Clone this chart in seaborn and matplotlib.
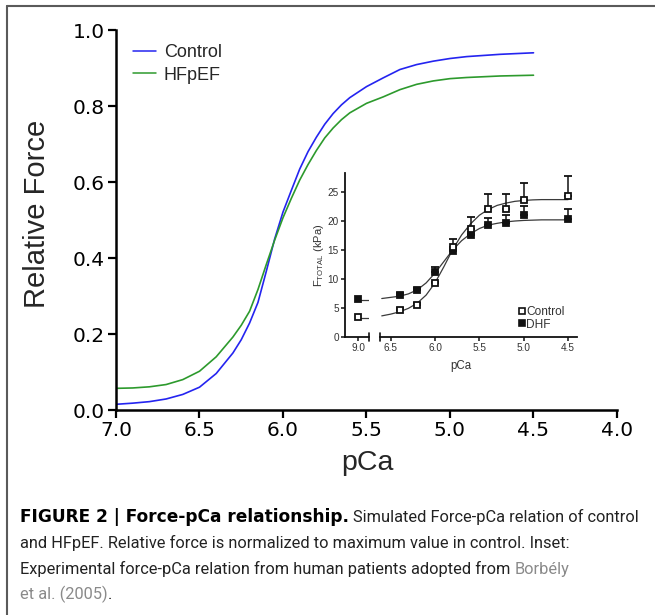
import numpy as np
import pandas as pd
import matplotlib
matplotlib.use("Agg")
import matplotlib.pyplot as plt
import seaborn as sns
from matplotlib.lines import Line2D

# ---------------- data: simulated curves (main panel) ----------------
pca_sim = [7.0, 6.9, 6.8, 6.7, 6.6, 6.5, 6.4, 6.3, 6.25, 6.2, 6.15, 6.1, 6.05, 6.0,
           5.95, 5.9, 5.85, 5.8, 5.75, 5.7, 5.65, 5.6, 5.5, 5.4, 5.3, 5.2, 5.1, 5.0,
           4.9, 4.8, 4.7, 4.6, 4.5]
force_control = [0.015, 0.018, 0.022, 0.029, 0.041, 0.060, 0.096, 0.150, 0.185, 0.229,
                 0.283, 0.365, 0.450, 0.521, 0.578, 0.634, 0.680, 0.718, 0.752, 0.780,
                 0.803, 0.822, 0.851, 0.874, 0.896, 0.909, 0.918, 0.925, 0.930, 0.933,
                 0.936, 0.938, 0.940]
force_hfpef = [0.057, 0.058, 0.061, 0.067, 0.080, 0.102, 0.140, 0.192, 0.223, 0.260,
               0.317, 0.383, 0.447, 0.506, 0.557, 0.605, 0.646, 0.683, 0.716, 0.742,
               0.764, 0.782, 0.807, 0.824, 0.843, 0.857, 0.866, 0.872, 0.875, 0.877,
               0.879, 0.880, 0.881]
series_names = ["Control", "HFpEF"]
x_ticks = [7.0, 6.5, 6.0, 5.5, 5.0, 4.5, 4.0]
y_ticks = [0.0, 0.2, 0.4, 0.6, 0.8, 1.0]

# ---------------- data: inset (experimental) ----------------
pca_relaxed = [9.0]
ftot_relaxed_control = [3.4]
ftot_relaxed_dhf = [6.6]
pca_stub = [9.0, 8.88]
stub_control = [3.3, 3.3]
stub_dhf = [6.3, 6.3]
pca_exp = [6.4, 6.2, 6.0, 5.8, 5.6, 5.4, 5.2, 5.0, 4.5]
ftot_control = [4.6, 5.5, 9.2, 15.5, 18.7, 22.1, 22.1, 23.6, 24.4]
ftot_dhf = [7.2, 8.0, 11.1, 14.8, 17.5, 19.3, 19.6, 21.0, 20.4]
err_control = [0.3, 0.3, 0.3, 1.4, 2.0, 2.6, 2.6, 3.0, 3.3]
err_dhf = [0.3, 0.5, 1.0, 0.3, 0.3, 1.3, 1.4, 1.6, 1.7]
pca_fit = [6.6, 6.5, 6.4, 6.3, 6.2, 6.1, 6.0, 5.9, 5.8, 5.7, 5.6, 5.5, 5.4, 5.3,
           5.2, 5.1, 5.0, 4.9, 4.8, 4.7, 4.6, 4.5]
fit_control = [3.6, 3.9, 4.3, 4.9, 5.8, 7.2, 9.3, 12.1, 15.1, 17.6, 19.5, 21.0, 22.0,
               22.7, 23.1, 23.4, 23.55, 23.65, 23.7, 23.7, 23.7, 23.7]
fit_dhf = [6.6, 6.8, 7.0, 7.4, 8.1, 9.3, 11.0, 13.0, 15.0, 16.6, 17.8, 18.7, 19.3,
           19.6, 19.85, 20.0, 20.1, 20.15, 20.2, 20.2, 20.2, 20.2]
inset_yticks = [0, 5, 10, 15, 20, 25]
inset_xticks_b = [6.5, 6.0, 5.5, 5.0, 4.5]
inset_series = ["Control", "DHF"]

# ---------------- figure ----------------
sns.set_style("ticks")
plt.rcParams["font.family"] = ["DejaVu Sans"]
W, H = 655, 615
fig = plt.figure(figsize=(W / 100, H / 100), dpi=100)
fig.patch.set_facecolor("white")

def fx(px):
    return px / W

def fy(py):
    return 1 - py / H

# main axes
ax = fig.add_axes([fx(116), fy(410), fx(617) - fx(116), fy(30) - fy(410)])
df = pd.DataFrame({
    "pCa": pca_sim * 2,
    "force": force_control + force_hfpef,
    "group": [series_names[0]] * len(pca_sim) + [series_names[1]] * len(pca_sim),
})
sns.lineplot(data=df, x="pCa", y="force", hue="group",
             palette={"Control": "#2424f0", "HFpEF": "#2d9a2d"},
             linewidth=1.2, ax=ax, sort=False, legend=True)
ax.set_xlim(7.0, 4.0)
ax.set_ylim(0.0, 1.0)
ax.set_xticks(x_ticks)
ax.set_xticklabels([f"{v:.1f}" for v in x_ticks])
ax.set_yticks(y_ticks)
ax.set_yticklabels([f"{v:.1f}" for v in y_ticks])
ax.tick_params(axis="both", direction="out", length=6, width=1.6, labelsize=14.5,
               pad=2, colors="black")
for s in ["top", "right"]:
    ax.spines[s].set_visible(False)
for s in ["left", "bottom"]:
    ax.spines[s].set_linewidth(1.8)
    ax.spines[s].set_color("black")
ax.set_facecolor("none")
ax.set_xlabel("")
ax.set_ylabel("")
fig.text(fx(367), fy(463), "pCa", fontsize=20.5, family=["Liberation Sans"],
         ha="center", va="center")
fig.text(fx(37), fy(214), "Relative Force", fontsize=21, family=["Liberation Sans"],
         ha="center", va="center", rotation=90)

leg = ax.get_legend()
handles = leg.legend_handles
labels = [t.get_text() for t in leg.texts]
for h in handles:
    h.set_linewidth(1.1)
ax.legend(handles, labels, loc="upper left", bbox_to_anchor=(fx(133), fy(44)),
          bbox_transform=fig.transFigure, frameon=False, borderpad=0,
          borderaxespad=0, handlelength=1.25, handletextpad=0.45, labelspacing=0.32,
          prop={"family": "Liberation Sans", "size": 13})

# ---------------- inset (broken x axis) ----------------
y_top_px, y0_px = 173, 336.7
ins_bottom = fy(y0_px)
ins_height = fy(y_top_px) - fy(y0_px)
ax_a = fig.add_axes([fx(345), ins_bottom, fx(369) - fx(345), ins_height])
ax_b = fig.add_axes([fx(380), ins_bottom, fx(577) - fx(380), ins_height])
ink = "#333333"
for a in (ax_a, ax_b):
    a.set_facecolor("none")
    a.set_ylim(0, 28.3)
    for s in ["top", "right"]:
        a.spines[s].set_visible(False)
    a.spines["bottom"].set_linewidth(1.3)
    a.spines["bottom"].set_color("#111111")
    a.tick_params(axis="both", direction="out", length=3.2, width=1.1, labelsize=7.2,
                  pad=1.3, colors=ink)
    a.tick_params(axis="both", color="#111111")

ax_a.spines["left"].set_linewidth(1.3)
ax_a.spines["left"].set_color("#111111")
ax_a.set_xlim(9.15, 8.879)
ax_b.set_xlim(6.62, 4.40)
ax_a.set_yticks(inset_yticks)
ax_a.set_yticklabels([str(v) for v in inset_yticks], family="Liberation Sans")
ax_a.set_xticks(pca_relaxed)
ax_a.set_xticklabels([f"{v:.1f}" for v in pca_relaxed], family="Liberation Sans")
ax_b.spines["left"].set_visible(False)
ax_b.set_yticks([])
ax_b.set_xticks(inset_xticks_b)
ax_b.set_xticklabels([f"{v:.1f}" for v in inset_xticks_b], family="Liberation Sans")

# break caps
ax_a.plot([1, 1], [-0.025, 0.025], transform=ax_a.transAxes, color="#111111",
          lw=1.2, clip_on=False)
ax_b.plot([0, 0], [-0.025, 0.025], transform=ax_b.transAxes, color="#111111",
          lw=1.2, clip_on=False)

# fitted curves
fit_df = pd.DataFrame({"pCa": pca_fit * 2, "F": fit_control + fit_dhf,
                       "g": ["c"] * len(pca_fit) + ["d"] * len(pca_fit)})
sns.lineplot(data=fit_df, x="pCa", y="F", units="g", estimator=None, sort=False,
             color="#3a3a3a", linewidth=0.9, ax=ax_b, legend=False)
stub_df = pd.DataFrame({"pCa": pca_stub * 2, "F": stub_control + stub_dhf,
                        "g": ["c"] * 2 + ["d"] * 2})
sns.lineplot(data=stub_df, x="pCa", y="F", units="g", estimator=None, sort=False,
             color="#3a3a3a", linewidth=0.9, ax=ax_a, legend=False)

mk = dict(marker="s", ms=4.6, mew=1.3, mec="#111111", ls="none",
          ecolor="#111111", elinewidth=1.1, capsize=2.8, capthick=1.1, zorder=3)
ax_b.errorbar(pca_exp, ftot_dhf, yerr=[np.zeros(len(err_dhf)), err_dhf],
              mfc="#111111", **mk)
ax_b.errorbar(pca_exp, ftot_control, yerr=[np.zeros(len(err_control)), err_control],
              mfc="white", **mk)
ax_a.plot(pca_relaxed, ftot_relaxed_dhf, marker="s", ms=4.6, mew=1.3, mec="#111111",
          mfc="#111111", ls="none", zorder=3, clip_on=False)
ax_a.plot(pca_relaxed, ftot_relaxed_control, marker="s", ms=4.6, mew=1.3,
          mec="#111111", mfc="white", ls="none", zorder=3, clip_on=False)

for a in (ax_a, ax_b):
    a.set_xlabel("")
    a.set_ylabel("")

fig.text(fx(461), fy(366), "pCa", fontsize=8.3, family=["Liberation Sans"], color=ink,
         ha="center", va="center")
fig.text(fx(319), fy(255), r"F$_{\mathregular{TOTAL}}$ (kPa)", fontsize=8.0,
         family=["Liberation Sans"], color=ink, ha="center", va="center", rotation=90)

ins_handles = [
    Line2D([], [], marker="s", ls="none", ms=4.2, mew=1.2, mec="#111111", mfc="white"),
    Line2D([], [], marker="s", ls="none", ms=4.2, mew=1.2, mec="#111111", mfc="#111111"),
]
ax_b.legend(ins_handles, inset_series, loc="upper left",
            bbox_to_anchor=(fx(518), fy(306)), bbox_transform=fig.transFigure,
            frameon=False, borderpad=0, borderaxespad=0, handlelength=0.6,
            handletextpad=0.1, labelspacing=0.05,
            prop={"family": "Liberation Sans", "size": 8.6}, labelcolor=ink)

# ---------------- page frame ----------------
fig.add_artist(Line2D([fx(7), 1.0], [fy(6), fy(6)], transform=fig.transFigure,
                      color="#5a5a5a", lw=1.5))
fig.add_artist(Line2D([fx(7), fx(7)], [0.0, fy(6)], transform=fig.transFigure,
                      color="#5a5a5a", lw=1.5))

# ---------------- caption ----------------
reg_font = ["Roboto", "DejaVu Sans"]
bold_font = ["DejaVu Sans"]
dark = "#222222"
link = "#8a8a8a"
renderer = fig.canvas.get_renderer()

caption_lines = [
    [("FIGURE 2 | Force-pCa relationship.", "bold", "black"), (" ", None, None),
     ("Simulated Force-pCa relation of control", "normal", dark)],
    [("and HFpEF. Relative force is normalized to maximum value in control. Inset:",
      "normal", dark)],
    [("Experimental force-pCa relation from human patients adopted from", "normal", dark),
     (" ", None, None), ("Borbély", "normal", link)],
    [("et al. (2005)", "normal", link), (".", "normal", dark)],
]

def measure(txt, size, weight="normal"):
    fam = bold_font if weight == "bold" else reg_font
    t = fig.text(0, 0, txt, fontsize=size, family=fam, weight=weight)
    w = t.get_window_extent(renderer).width
    t.remove()
    return w

# regular text size fitted so that line 2 spans the same width as in the figure
reg_fs = 12.0 * 545.0 / measure(caption_lines[1][0][0], 12.0)
space_w = measure("a a", reg_fs) - measure("aa", reg_fs)
reg_part = measure(caption_lines[0][2][0], reg_fs)
bold_fs = 12.0 * (620.0 - space_w - reg_part) / measure(caption_lines[0][0][0], 12.0, "bold")
bold_fs = min(bold_fs, reg_fs * 1.08)

baselines = [522, 548, 574, 599]
for pieces, base in zip(caption_lines, baselines):
    x = 20.0
    for txt, weight, col in pieces:
        if txt == " ":
            x += space_w
            continue
        fam = bold_font if weight == "bold" else reg_font
        fs = bold_fs if weight == "bold" else reg_fs
        t = fig.text(fx(x), fy(base), txt, fontsize=fs, family=fam,
                     weight=weight, color=col, ha="left", va="baseline")
        x += t.get_window_extent(renderer).width

fig.savefig("out.png", dpi=100, facecolor="white")
